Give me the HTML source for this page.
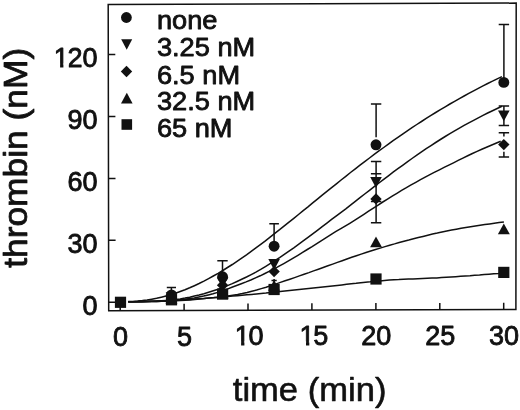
<!DOCTYPE html>
<html><head><meta charset="utf-8"><title>thrombin vs time</title>
<style>html,body{margin:0;padding:0;background:#fff}svg{display:block}text{font-family:"Liberation Sans",Arial,Helvetica,sans-serif;fill:#111;stroke:#111;stroke-width:0.85px;stroke-linejoin:round}</style></head><body>
<svg width="520" height="410" viewBox="0 0 520 410">
<rect width="520" height="410" fill="#fff"/>
<g fill="none" stroke="#111" stroke-width="1.50">
<path d="M108.2 4.4L516.2 3.1L515.9 309.5L108.7 310.7Z"/>
<path d="M120.2 310.7V303.9M184.1 310.5V303.7M248.0 310.3V303.5M311.9 310.1V303.3M375.9 309.9V303.1M439.8 309.7V302.9M503.7 309.5V302.7M108.7 302.3H115.7M108.6 240.3H115.6M108.5 178.4H115.5M108.4 116.4H115.4M108.3 54.5H115.3"/>
<path d="M128.2 301.6 L132.9 301.4 L137.6 301.1 L142.4 300.6 L147.1 300.0 L151.8 299.2 L156.6 298.3 L161.3 297.2 L166.0 296.0 L170.8 294.7 L175.5 293.2 L180.2 291.5 L185.0 289.7 L189.7 287.8 L194.4 285.7 L199.1 283.5 L203.9 281.1 L208.6 278.6 L213.3 276.0 L218.1 273.3 L222.8 270.5 L227.5 267.5 L232.3 264.5 L237.0 261.3 L241.7 258.1 L246.5 254.8 L251.2 251.4 L255.9 247.9 L260.7 244.3 L265.4 240.8 L270.1 237.1 L274.8 233.4 L279.6 229.7 L284.3 225.9 L289.0 222.1 L293.8 218.3 L298.5 214.5 L303.2 210.6 L308.0 206.8 L312.7 202.9 L317.4 199.1 L322.2 195.2 L326.9 191.4 L331.6 187.6 L336.4 183.8 L341.1 180.0 L345.8 176.3 L350.5 172.5 L355.3 168.8 L360.0 165.2 L364.7 161.6 L369.5 158.0 L374.2 154.4 L378.9 150.9 L383.7 147.5 L388.4 144.1 L393.1 140.7 L397.9 137.4 L402.6 134.1 L407.3 130.8 L412.0 127.7 L416.8 124.5 L421.5 121.5 L426.2 118.4 L431.0 115.4 L435.7 112.5 L440.4 109.6 L445.2 106.8 L449.9 104.0 L454.6 101.3 L459.4 98.6 L464.1 96.0 L468.8 93.4 L473.6 90.8 L478.3 88.3 L483.0 85.9 L487.7 83.5 L492.5 81.2 L497.2 78.8 L501.9 76.6"/>
<path d="M128.2 301.7 L132.9 301.7 L137.6 301.7 L142.4 301.6 L147.1 301.5 L151.8 301.3 L156.6 301.1 L161.3 300.8 L166.0 300.5 L170.8 300.1 L175.5 299.5 L180.2 298.9 L185.0 298.1 L189.7 297.2 L194.4 296.1 L199.1 295.0 L203.9 293.7 L208.6 292.3 L213.3 290.8 L218.1 289.2 L222.8 287.5 L227.5 285.6 L232.3 283.6 L237.0 281.5 L241.7 279.3 L246.5 277.0 L251.2 274.6 L255.9 272.1 L260.7 269.4 L265.4 266.6 L270.1 263.7 L274.8 260.7 L279.6 257.6 L284.3 254.4 L289.0 251.1 L293.8 247.8 L298.5 244.4 L303.2 240.9 L308.0 237.4 L312.7 233.9 L317.4 230.3 L322.2 226.7 L326.9 223.1 L331.6 219.4 L336.4 215.8 L341.1 212.3 L345.8 208.8 L350.5 205.1 L355.3 201.4 L360.0 197.7 L364.7 194.0 L369.5 190.3 L374.2 186.6 L378.9 183.0 L383.7 179.4 L388.4 175.8 L393.1 172.2 L397.9 168.7 L402.6 165.3 L407.3 161.8 L412.0 158.5 L416.8 155.2 L421.5 151.9 L426.2 148.7 L431.0 145.6 L435.7 142.5 L440.4 139.5 L445.2 136.5 L449.9 133.7 L454.6 130.9 L459.4 128.1 L464.1 125.4 L468.8 122.8 L473.6 120.3 L478.3 117.8 L483.0 115.4 L487.7 113.0 L492.5 110.7 L497.2 108.5 L501.9 106.3"/>
<path d="M128.2 301.7 L132.9 301.7 L137.6 301.7 L142.3 301.7 L147.0 301.6 L151.8 301.5 L156.5 301.4 L161.2 301.2 L165.9 300.9 L170.6 300.6 L175.3 300.3 L180.0 299.8 L184.8 299.3 L189.5 298.6 L194.2 297.9 L198.9 297.0 L203.6 296.1 L208.3 295.0 L213.0 293.8 L217.8 292.4 L222.5 290.8 L227.2 289.1 L231.9 287.3 L236.6 285.5 L241.3 283.7 L246.1 281.9 L250.8 280.0 L255.5 277.9 L260.2 275.8 L264.9 273.5 L269.6 271.2 L274.3 268.8 L279.1 266.2 L283.8 263.6 L288.5 260.9 L293.2 258.1 L297.9 255.3 L302.6 252.4 L307.3 249.5 L312.1 246.6 L316.8 243.6 L321.5 240.7 L326.2 237.7 L330.9 234.6 L335.6 231.7 L340.4 228.9 L345.1 226.1 L349.8 223.3 L354.5 220.4 L359.2 217.4 L363.9 214.3 L368.6 211.2 L373.4 208.1 L378.1 205.1 L382.8 202.0 L387.5 199.1 L392.2 196.1 L396.9 193.3 L401.6 190.4 L406.4 187.7 L411.1 184.9 L415.8 182.3 L420.5 179.7 L425.2 177.1 L429.9 174.6 L434.7 172.2 L439.4 169.8 L444.1 167.4 L448.8 165.1 L453.5 162.8 L458.2 160.4 L462.9 158.1 L467.7 155.8 L472.4 153.5 L477.1 151.4 L481.8 149.3 L486.5 147.2 L491.2 145.2 L495.9 143.2 L500.7 141.2"/>
<path d="M128.2 301.7 L132.9 301.7 L137.7 301.7 L142.4 301.7 L147.2 301.6 L152.0 301.6 L156.7 301.5 L161.5 301.3 L166.2 301.2 L171.0 301.0 L175.7 300.8 L180.5 300.5 L185.2 300.2 L190.0 299.9 L194.8 299.5 L199.5 299.0 L204.3 298.6 L209.0 298.0 L213.8 297.5 L218.5 296.9 L223.3 296.4 L228.0 295.9 L232.8 295.2 L237.6 294.5 L242.3 293.6 L247.1 292.5 L251.8 291.3 L256.6 290.0 L261.3 288.6 L266.1 287.2 L270.8 285.6 L275.6 284.1 L280.4 282.4 L285.1 280.8 L289.9 279.2 L294.6 277.6 L299.4 275.9 L304.1 274.2 L308.9 272.6 L313.6 270.9 L318.4 269.2 L323.2 267.5 L327.9 265.8 L332.7 264.1 L337.4 262.4 L342.2 260.7 L346.9 259.0 L351.7 257.3 L356.4 255.7 L361.2 254.1 L366.0 252.5 L370.7 251.0 L375.5 249.5 L380.2 248.1 L385.0 246.6 L389.7 245.2 L394.5 243.9 L399.2 242.5 L404.0 241.2 L408.8 240.0 L413.5 238.7 L418.3 237.5 L423.0 236.4 L427.8 235.2 L432.5 234.1 L437.3 233.1 L442.0 232.0 L446.8 231.0 L451.6 230.1 L456.3 229.2 L461.1 228.3 L465.8 227.5 L470.6 226.8 L475.3 226.1 L480.1 225.3 L484.8 224.6 L489.6 223.9 L494.3 223.3 L499.1 222.6 L503.9 222.0"/>
<path d="M128.2 301.7 L132.9 301.7 L137.7 301.6 L142.4 301.5 L147.2 301.4 L151.9 301.3 L156.7 301.1 L161.4 300.9 L166.2 300.7 L170.9 300.5 L175.7 300.3 L180.4 300.0 L185.1 299.7 L189.9 299.5 L194.6 299.1 L199.4 298.8 L204.1 298.5 L208.9 298.1 L213.6 297.7 L218.4 297.4 L223.1 297.0 L227.9 296.6 L232.6 296.1 L237.4 295.7 L242.1 295.3 L246.9 294.8 L251.6 294.4 L256.4 293.9 L261.1 293.4 L265.9 293.0 L270.6 292.5 L275.3 292.0 L280.1 291.6 L284.8 291.1 L289.6 290.6 L294.3 290.1 L299.1 289.6 L303.8 289.1 L308.6 288.6 L313.3 288.1 L318.1 287.6 L322.8 287.1 L327.6 286.5 L332.3 286.0 L337.1 285.4 L341.8 284.9 L346.6 284.3 L351.3 283.8 L356.1 283.3 L360.8 282.7 L365.5 282.2 L370.3 281.8 L375.0 281.3 L379.8 280.9 L384.5 280.5 L389.3 280.1 L394.0 279.8 L398.8 279.6 L403.5 279.3 L408.3 279.1 L413.0 278.9 L417.8 278.7 L422.5 278.5 L427.3 278.3 L432.0 278.1 L436.8 277.9 L441.5 277.6 L446.3 277.3 L451.0 277.0 L455.7 276.7 L460.5 276.3 L465.2 276.0 L470.0 275.7 L474.7 275.3 L479.5 275.0 L484.2 274.6 L489.0 274.2 L493.7 273.8 L498.5 273.5 L503.2 273.1"/>
<path d="M171.4 287.4V295.0M166.8 287.4H176.0M222.5 260.8V277.0M217.3 260.8H227.7M274.1 223.7V245.6M269.3 223.7H278.9M376.1 103.9V137.2M370.9 103.9H381.3M503.9 24.6V82.4M498.7 24.6H509.1M376.1 161.5V201.6M370.9 161.5H381.3M370.9 201.6H381.3M376.1 173.7V222.8M370.9 173.7H381.3M370.9 222.8H381.3M503.9 105.9V125.4M498.7 105.9H509.1M498.7 125.4H509.1M503.9 132.7V136.6M498.7 132.7H509.1M503.9 151.8V157.0M498.7 157.0H509.1M274.1 278.9V288.0M271.5 280.5H276.7"/>
</g>
<g fill="#111" stroke="none">
<circle cx="126.4" cy="17.5" r="5.40"/>
<path d="M121.2 39.3H132.2L126.7 49.7Z"/>
<path d="M126.5 65.8L132.2 71.5L126.5 77.2L120.8 71.5Z"/>
<path d="M121.0 103.4H132.6L126.8 92.7Z"/>
<rect x="121.5" y="119.2" width="10.6" height="10.6"/>
<circle cx="171.5" cy="294.9" r="5.45"/>
<circle cx="222.6" cy="276.8" r="5.45"/>
<circle cx="274.1" cy="246.2" r="5.45"/>
<circle cx="376.0" cy="144.8" r="5.45"/>
<circle cx="503.8" cy="82.4" r="5.45"/>
<path d="M165.7 292.3H177.3L171.5 303.1Z"/>
<path d="M216.8 277.3H228.4L222.6 288.1Z"/>
<path d="M268.3 259.1H279.9L274.1 269.9Z"/>
<path d="M370.2 177.1H381.8L376.0 187.9Z"/>
<path d="M498.0 110.4H509.6L503.8 121.2Z"/>
<path d="M171.5 292.3L177.2 298.0L171.5 303.7L165.8 298.0Z"/>
<path d="M222.6 279.5L228.3 285.2L222.6 290.9L216.9 285.2Z"/>
<path d="M274.1 265.9L279.8 271.6L274.1 277.3L268.4 271.6Z"/>
<path d="M376.0 193.2L381.7 198.9L376.0 204.6L370.3 198.9Z"/>
<path d="M503.8 138.9L509.5 144.6L503.8 150.3L498.1 144.6Z"/>
<path d="M165.5 303.5H177.4L171.5 292.7Z"/>
<path d="M216.7 298.4H228.6L222.6 287.6Z"/>
<path d="M268.1 290.7H280.0L274.1 279.9Z"/>
<path d="M370.1 247.3H382.0L376.0 236.5Z"/>
<path d="M497.9 234.3H509.8L503.8 223.5Z"/>
<rect x="114.9" y="296.7" width="11.2" height="11.2"/>
<rect x="165.9" y="294.2" width="11.2" height="11.2"/>
<rect x="217.0" y="288.5" width="11.2" height="11.2"/>
<rect x="268.5" y="283.9" width="11.2" height="11.2"/>
<rect x="370.4" y="273.4" width="11.2" height="11.2"/>
<rect x="498.2" y="266.8" width="11.2" height="11.2"/>
</g>
<text transform="translate(156.9 29.2) scale(1.035 1)" font-size="26.3">none</text>
<text transform="translate(156.9 56.0) scale(1.035 1)" font-size="26.3">3.25 nM</text>
<text transform="translate(156.9 83.8) scale(1.035 1)" font-size="26.3">6.5 nM</text>
<text transform="translate(156.9 110.1) scale(1.035 1)" font-size="26.3">32.5 nM</text>
<text transform="translate(156.9 137.3) scale(1.035 1)" font-size="26.3">65 nM</text>
<text x="113.1" y="345.6" font-size="27.0" text-anchor="start">0</text>
<text x="177.0" y="345.5" font-size="27.0" text-anchor="start">5</text>
<text x="234.7" y="345.3" font-size="27.0" text-anchor="start">1</text>
<text x="248.4" y="345.3" font-size="27.0" text-anchor="start">0</text>
<text x="299.6" y="345.2" font-size="27.0" text-anchor="start">1</text>
<text x="313.3" y="345.2" font-size="27.0" text-anchor="start">5</text>
<text x="361.2" y="345.0" font-size="27.0" text-anchor="start">20</text>
<text x="425.2" y="344.9" font-size="27.0" text-anchor="start">25</text>
<text x="489.1" y="344.7" font-size="27.0" text-anchor="start">30</text>
<text x="82.4" y="315.4" font-size="27.0" text-anchor="start">0</text>
<text x="67.4" y="253.4" font-size="27.0" text-anchor="start">30</text>
<text x="67.4" y="191.4" font-size="27.0" text-anchor="start">60</text>
<text x="67.4" y="129.3" font-size="27.0" text-anchor="start">90</text>
<text x="53.7" y="67.4" font-size="27.0" text-anchor="start">1</text>
<text x="67.4" y="67.4" font-size="27.0" text-anchor="start">20</text>
<rect x="235.5" y="341.4" width="5.6" height="5.0" fill="#fff"/>
<rect x="244.4" y="341.4" width="5.3" height="5.0" fill="#fff"/>
<rect x="300.4" y="341.3" width="5.6" height="5.0" fill="#fff"/>
<rect x="309.3" y="341.3" width="5.3" height="5.0" fill="#fff"/>
<rect x="54.5" y="63.5" width="5.6" height="5.0" fill="#fff"/>
<rect x="63.4" y="63.5" width="5.3" height="5.0" fill="#fff"/>
<text x="232.8" y="400.5" font-size="34.0" text-anchor="start" textLength="153.6" lengthAdjust="spacingAndGlyphs" style="stroke-width:0.6px">time (min)</text>
<text transform="translate(27.3 267.8) rotate(-90)" x="0" y="0" font-size="33.4" style="stroke-width:0.8px" textLength="220" lengthAdjust="spacingAndGlyphs">thrombin (nM)</text>
</svg></body></html>
